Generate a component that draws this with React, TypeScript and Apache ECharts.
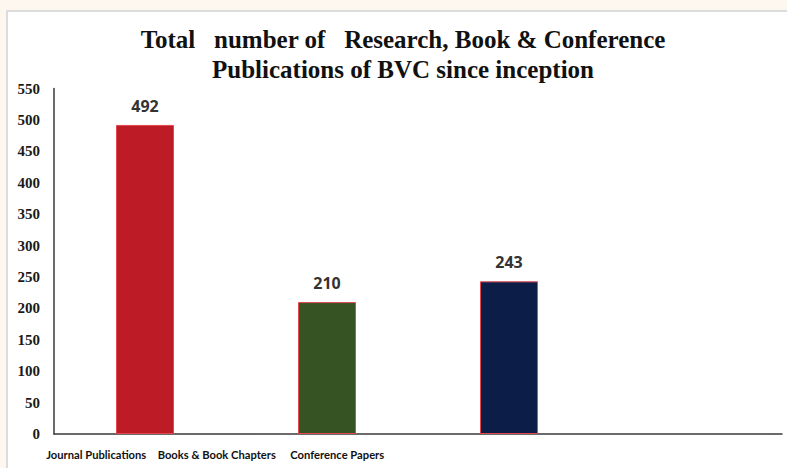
import React, { useEffect, useRef } from "react";
import * as echarts from "echarts";

const categories = ["Journal Publications", "Books & Book Chapters", "Conference Papers", ""];
const values = [492, 210, 243];
const barColors = ["#bd1c27", "#365323", "#0c1d48"];
const labelCategories = ["Journal Publications", "Books & Book Chapters", "Conference Papers"];
const titleText = "Total   number of   Research, Book & Conference\nPublications of BVC since inception";

export default function App() {
  const ref = useRef<HTMLDivElement>(null);
  useEffect(() => {
    if (!ref.current) return;
    const chart = echarts.init(ref.current, null, { renderer: "svg" });
    chart.setOption({
      animation: false,
      backgroundColor: "#fdf7ef",
      graphic: [
        {
          type: "rect",
          z: -10,
          shape: { x: 7, y: 11, width: 800, height: 470 },
          style: { fill: "#ffffff", stroke: "#dcdcdc", lineWidth: 2 },
          silent: true,
        },
      ],
      title: {
        text: titleText,
        left: 398,
        top: 19,
        textAlign: "center",
        textStyle: {
          fontFamily: "Liberation Serif",
          fontWeight: "bold",
          fontSize: 25,
          lineHeight: 30,
          color: "#111",
        },
      },
      grid: [
        { left: 54, right: 5, top: 88.5, bottom: 34, containLabel: false },
        { left: 36, width: 361.5, top: 88.5, bottom: 34, containLabel: false },
      ],
      xAxis: [
        {
          type: "category",
          gridIndex: 0,
          data: categories,
          axisLine: { lineStyle: { color: "#3a3a3a", width: 1.5 } },
          axisTick: { show: false },
          axisLabel: { show: false },
        },
        {
          type: "category",
          gridIndex: 1,
          data: labelCategories,
          axisLine: { show: false },
          axisTick: { show: false },
          axisLabel: {
            interval: 0,
            margin: 15,
            fontFamily: "Lato",
            fontWeight: "bold",
            fontSize: 11.2,
            color: "#111",
          },
        },
      ],
      yAxis: [
        {
          type: "value",
          gridIndex: 0,
          min: 0,
          max: 550,
          interval: 50,
          splitLine: { show: false },
          axisTick: { show: false },
          axisLine: { show: true, lineStyle: { color: "#3a3a3a", width: 1.5 } },
          axisLabel: {
            margin: 14,
            fontFamily: "Liberation Serif",
            fontWeight: "bold",
            fontSize: 15,
            color: "#1a1a1a",
          },
        },
        {
          type: "value",
          gridIndex: 1,
          min: 0,
          max: 550,
          show: false,
        },
      ],
      series: [
        {
          type: "bar",
          xAxisIndex: 0,
          yAxisIndex: 0,
          barWidth: 58,
          data: values.map((v, i) => ({
            value: v,
            itemStyle: { color: barColors[i], borderColor: "#e2484e", borderWidth: 1 },
          })),
          label: {
            show: true,
            position: "top",
            distance: 11,
            fontFamily: "Open Sans",
            fontWeight: "bold",
            fontSize: 16,
            color: "#333",
          },
        },
      ],
    });
    return () => chart.dispose();
  }, []);
  return <div ref={ref} style={{ position: "fixed", left: 0, top: 0, width: 787, height: 468 }} />;
}
